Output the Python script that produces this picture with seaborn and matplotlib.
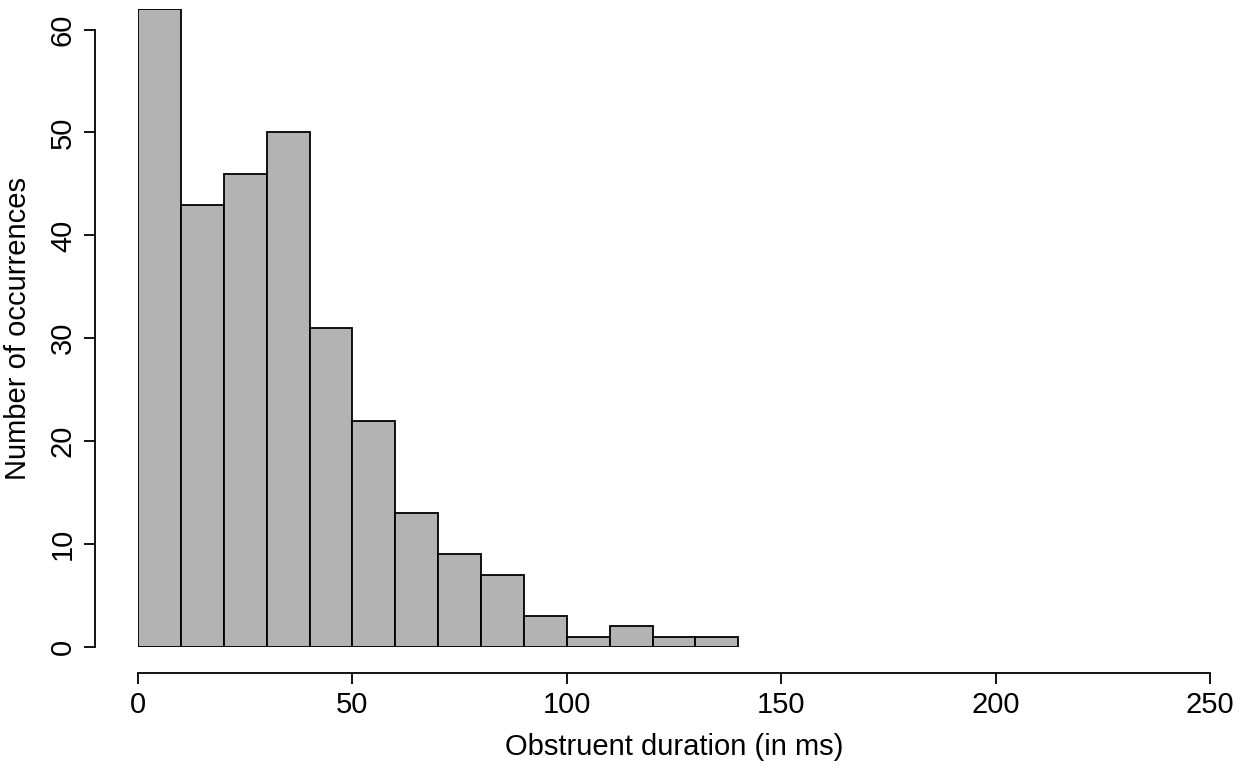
import numpy as np
import pandas as pd
import matplotlib
matplotlib.use('Agg')
import matplotlib.pyplot as plt
import seaborn as sns

# Histogram data (bin edges in ms, counts per bin)
bin_edges = [0, 10, 20, 30, 40, 50, 60, 70, 80, 90, 100, 110, 120, 130, 140]
counts = [62, 43, 46, 50, 31, 22, 13, 9, 7, 3, 1, 2, 1, 1]
x_ticks = [0, 50, 100, 150, 200, 250]
y_ticks = [0, 10, 20, 30, 40, 50, 60]

sns.set_style('white')
plt.rcParams['font.family'] = ['Liberation Sans', 'DejaVu Sans']

W, H = 1240, 772
fig = plt.figure(figsize=(W / 100, H / 100), dpi=100)
# axes placed in pixel coords: x 0->138, 250->1210 ; y 0->647, 62->9
ax = fig.add_axes([138 / W, (H - 647) / H, (1210 - 138) / W, (647 - 9) / H])

df = pd.DataFrame({'mid': np.array(bin_edges[:-1]) + 5, 'n': counts})
sns.histplot(data=df, x='mid', weights='n', bins=bin_edges, ax=ax,
             color='#b3b3b3', edgecolor='black', linewidth=1.3, alpha=1)

ax.set_xlim(0, 250)
ax.set_ylim(0, 62)
ax.set_xticks(x_ticks)
ax.set_yticks(y_ticks)

for s in ['top', 'right']:
    ax.spines[s].set_visible(False)
ax.spines['left'].set_position(('outward', 43 * 0.72))
ax.spines['bottom'].set_position(('outward', 26 * 0.72))
ax.spines['left'].set_bounds(0, 60)
ax.spines['bottom'].set_bounds(0, 250)
for s in ['left', 'bottom']:
    ax.spines[s].set_linewidth(1.3)
    ax.spines[s].set_color('black')

ax.tick_params(axis='both', bottom=True, left=True, length=8, width=1.3,
               color='black', labelsize=21, labelcolor='black', pad=5,
               direction='out')
plt.setp(ax.get_yticklabels(), rotation=90, va='center')

ax.set_xlabel('Obstruent duration (in ms)', fontsize=21, labelpad=10,
              color='black')
ax.set_ylabel('Number of occurrences', fontsize=21, labelpad=12,
              color='black')

fig.savefig('out.png', dpi=100)
